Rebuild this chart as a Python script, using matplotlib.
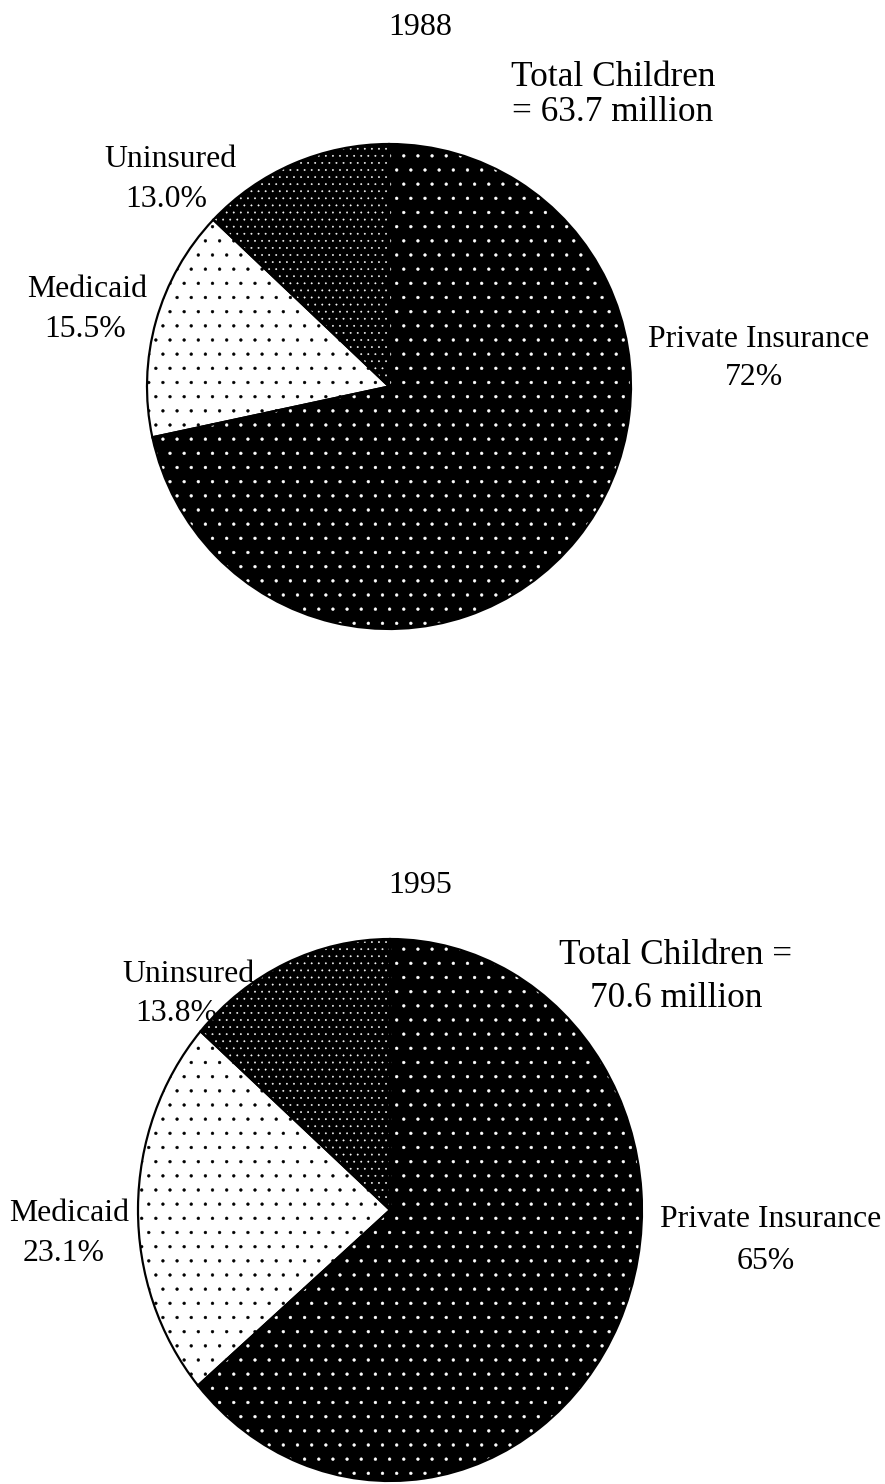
import matplotlib
matplotlib.use("Agg")
import matplotlib.pyplot as plt

# ---- data ----
categories = ["Private Insurance", "Medicaid", "Uninsured"]
values_1988 = [72.0, 15.5, 13.0]
values_1995 = [65.0, 23.1, 13.8]
pct_1988 = ["72%", "15.5%", "13.0%"]
pct_1995 = ["65%", "23.1%", "13.8%"]
year_1988 = "1988"
year_1995 = "1995"
total_1988 = ["Total Children", "= 63.7 million"]
total_1995 = ["Total Children =", "70.6 million"]

W, H = 885, 1485
DPI = 85
plt.rcParams['font.family'] = ['Liberation Serif', 'DejaVu Serif']
plt.rcParams['hatch.linewidth'] = 0.35


def pt(px):
    return px * 72.0 / DPI


fig = plt.figure(figsize=(W / DPI, H / DPI), dpi=DPI)

faces = ['black', 'white', 'black']
dotcol = ['white', 'black', 'white']
hatches = ['.', '.', '..']


def draw_pie(vals, box):
    x0, y0, x1, y1 = box
    ax = fig.add_axes([x0 / W, 1 - y1 / H, (x1 - x0) / W, (y1 - y0) / H])
    wedges, _ = ax.pie(vals, startangle=90, counterclock=False, radius=1.0)
    for w, fc, dc, hh in zip(wedges, faces, dotcol, hatches):
        w.set_facecolor(fc)
        w.set_edgecolor(dc)
        w.set_hatch(hh)
        w.set_linewidth(0)
    ax.pie(vals, startangle=90, counterclock=False, radius=1.0,
           wedgeprops=dict(facecolor='none', edgecolor='black',
                           linewidth=pt(2.2)))
    ax.set_aspect('auto')
    ax.set_xlim(-1.0, 1.0)
    ax.set_ylim(-1.0, 1.0)
    ax.axis('off')
    return ax


draw_pie(values_1988, (147, 145, 631, 630))
draw_pie(values_1995, (138, 940, 642, 1482))

# text layer on top
bg = fig.add_axes([0, 0, 1, 1])
bg.set_xlim(0, W)
bg.set_ylim(H, 0)
bg.axis('off')
bg.patch.set_alpha(0)

fs_lab = pt(31.8)
fs_big = pt(35.3)
fs_year = pt(32)


def t(x, y, s, fs):
    bg.text(x, y, s, ha='center', va='baseline', fontsize=fs)


# 1988 texts
t(420, 35, year_1988, fs_year)
t(613, 86, total_1988[0], fs_big)
t(613, 121, total_1988[1], fs_big)
t(759, 347, categories[0], fs_lab)
t(754, 385, pct_1988[0], fs_lab)
t(87, 297, categories[1], fs_lab)
t(85, 337, pct_1988[1], fs_lab)
t(170, 167, categories[2], fs_lab)
t(166, 207, pct_1988[2], fs_lab)

# 1995 texts
t(420, 893, year_1995, fs_year)
t(676, 964, total_1995[0], fs_big)
t(676, 1007, total_1995[1], fs_big)
t(771, 1227, categories[0], fs_lab)
t(766, 1269, pct_1995[0], fs_lab)
t(69, 1221, categories[1], fs_lab)
t(64, 1261, pct_1995[1], fs_lab)
t(188, 982, categories[2], fs_lab)
t(176, 1021, pct_1995[2], fs_lab)

fig.savefig("out.png", dpi=DPI)
